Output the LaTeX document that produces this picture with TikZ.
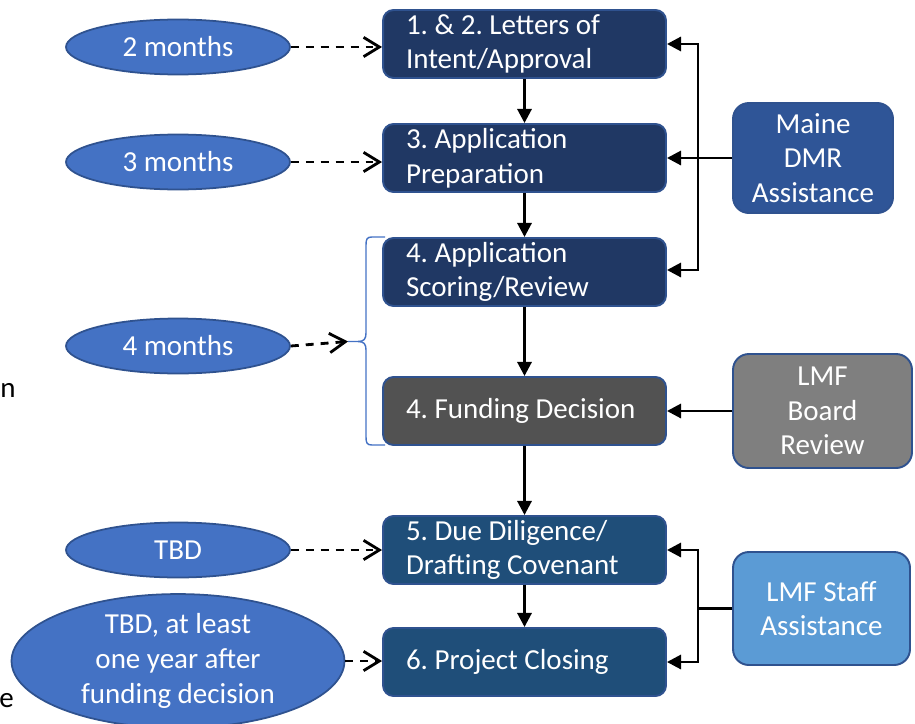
\documentclass[tikz,border=0pt]{standalone}
\usepackage{fontspec}
\setmainfont{Carlito}
\usetikzlibrary{
  positioning,
  arrows.meta,
  decorations.pathreplacing,
  shapes.geometric,
  calc
}
\frenchspacing
\definecolor{navy}{HTML}{203864}
\definecolor{edgeblue}{HTML}{2F528F}
\definecolor{slate}{HTML}{525252}
\definecolor{deepteal}{HTML}{1F4E79}
\definecolor{dmrblue}{HTML}{2F5597}
\definecolor{boardgrey}{HTML}{7F7F7F}
\definecolor{staffblue}{HTML}{5B9BD5}
\definecolor{spanblue}{HTML}{4472C4}

\begin{document}
\begin{tikzpicture}[x=0.02cm, y=-0.02cm,
  stage/.style={draw=edgeblue, line width=1.1pt, rounded corners=6pt, fill=navy,
                text=white, font=\fontsize{16.5}{19.8}\selectfont\frenchspacing,
                align=flush left, text width=4.74cm, inner xsep=0.46cm,
                inner ysep=0pt, minimum height=1.36cm},
  helper/.style={draw=edgeblue, line width=1.1pt, rounded corners=9pt,
                 text=white, font=\fontsize{16.5}{19.8}\selectfont, align=center,
                 inner sep=0pt, minimum width=3.2cm, minimum height=2.2cm},
  span/.style={ellipse, draw=edgeblue, line width=1pt, fill=spanblue, text=white,
               font=\fontsize{16.5}{19.8}\selectfont, align=center, inner sep=0pt,
               minimum width=4.48cm, minimum height=1.1cm},
  flow/.style={line width=1.6pt, -{Triangle[length=8pt,width=8pt]}},
  dashflow/.style={line width=1.6pt, dash pattern=on 4.5pt off 4pt,
                   -{Straight Barb[length=9pt,width=11pt,line width=1.6pt]}},
  fragment/.style={font=\fontsize{16.5}{19.8}\selectfont, inner sep=0pt},
]
  \useasboundingbox (0,0) rectangle (915,723);

  % main column
  \node[stage] (s1) at (524.5,44) {1. \& 2. Letters of\\Intent/Approval};
  \node[stage] (s2) at (524.5,158) {3. Application\\Preparation};
  \node[stage] (s3) at (524.5,272) {4. Application\\Scoring/Review};
  \node[stage, fill=slate] (s4) at (524.5,411) {4. Funding Decision};
  \node[stage, fill=deepteal] (s5) at (524.5,550) {5. Due Diligence/\\Drafting Covenant};
  \node[stage, fill=deepteal] (s6) at (524.5,662) {6. Project Closing};

  % support boxes
  \node[helper, fill=dmrblue] (dmr) at (813,158) {Maine\\DMR\\Assistance};
  \node[helper, fill=boardgrey, minimum width=3.58cm, minimum height=2.28cm] (board) at (822.5,411) {LMF\\Board\\Review};
  \node[helper, fill=staffblue, minimum width=3.54cm, minimum height=2.26cm] (staff) at (821.5,608.5) {LMF Staff\\Assistance};

  % durations
  \node[span] (e1) at (178,47) {2 months};
  \node[span] (e2) at (178,162) {3 months};
  \node[span] (e3) at (178,346) {4 months};
  \node[span] (e4) at (178,550) {TBD};
  \node[span, minimum width=6.66cm, minimum height=2.5cm] (e5) at (178,661) {TBD, at least\\one year after\\funding decision};

  % cut-off letters at the left edge
  \node[fragment, anchor=base west] (cutn) at (0,397) {n};
  \node[fragment, anchor=base west] (cute) at (-1,707) {e};

  \draw[flow] (s1) -- (s2);
  \draw[flow] (s2) -- (s3);
  \draw[flow] (s3) -- (s4);
  \draw[flow] (s4) -- (s5);
  \draw[flow] (s5) -- (s6);

  \coordinate (busdmr) at (698,158);
  \coordinate (busstaff) at (698,608.5);
  \draw[flow] (dmr.west) -- (s2.east);
  \draw[flow] (busdmr) |- (s1.east);
  \draw[flow] (busdmr) |- ($(s3.east)+(0,-2)$);
  \draw[flow] (board) -- (s4);
  \draw[line width=1.6pt] (staff.west) -- (busstaff);
  \draw[flow] (busstaff) |- (s5.east);
  \draw[flow] (busstaff) |- (s6.east);

  % brace over stage 4
  \coordinate (bracetip) at (348,341.5);
  \draw[spanblue, line width=0.8pt]
    (385,237) -- (372,237) .. controls (367,237) and (366,239) .. (366,245)
    -- (366,333) .. controls (366,339) and (364,341.5) .. (358,341.5) -- (bracetip);
  \draw[spanblue, line width=0.8pt]
    (358,341.5) .. controls (364,341.5) and (366,344) .. (366,350)
    -- (366,437) .. controls (366,443) and (367,445) .. (372,445) -- (385,445);

  \draw[dashflow] (e1.east) -- (e1.east -| s1.west);
  \draw[dashflow] (e2.east) -- (e2.east -| s2.west);
  \draw[dashflow] (e3.east) -- (bracetip);
  \draw[dashflow] (e4.east) -- (e4.east -| s5.west);
  \draw[dashflow] (e5.east) -- (e5.east -| s6.west);
\end{tikzpicture}
\end{document}
